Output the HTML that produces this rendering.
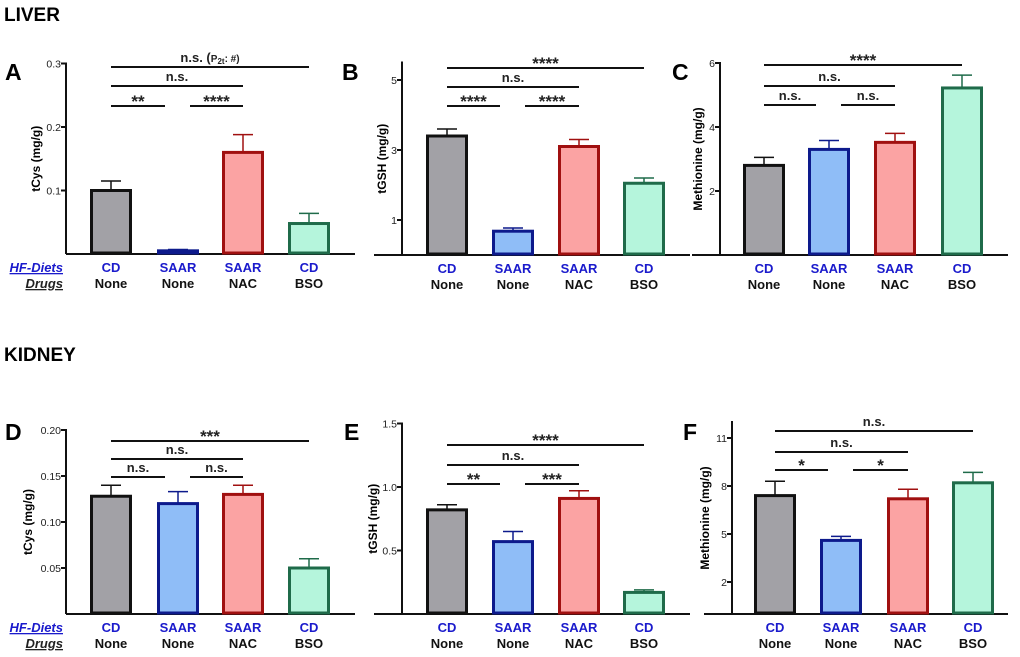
<!DOCTYPE html>
<html><head><meta charset="utf-8">
<style>
body{margin:0;background:#fff;width:1020px;height:652px;overflow:hidden;font-family:"Liberation Sans",Arial,sans-serif}
svg text{font-family:"Liberation Sans",Arial,sans-serif}
</style></head><body>
<svg id="fig" width="1020" height="652" viewBox="0 0 1020 652">
<text x="4" y="21" font-size="19" font-weight="bold">LIVER</text>
<text x="4" y="361" font-size="19" font-weight="bold">KIDNEY</text>
<text x="63" y="272" font-size="13" font-weight="bold" font-style="italic" fill="#1a1acc" text-decoration="underline" text-anchor="end">HF-Diets</text>
<text x="63" y="288" font-size="13" font-weight="bold" font-style="italic" fill="#222" text-decoration="underline" text-anchor="end">Drugs</text>
<text x="63" y="632" font-size="13" font-weight="bold" font-style="italic" fill="#1a1acc" text-decoration="underline" text-anchor="end">HF-Diets</text>
<text x="63" y="648" font-size="13" font-weight="bold" font-style="italic" fill="#222" text-decoration="underline" text-anchor="end">Drugs</text>
</svg>
<script>
const diets=["CD","SAAR","SAAR","CD"];
const drugs=["None","None","NAC","BSO"];
const valsA=[0.1,0.005,0.16,0.048], errA=[0.115,0.007,0.188,0.064], ticksA=[0.1,0.2,0.3];
const valsB=[3.4,0.68,3.1,2.05], errB=[3.6,0.77,3.3,2.2], ticksB=[1,3,5];
const valsC=[2.8,3.3,3.52,5.22], errC=[3.05,3.58,3.8,5.62], ticksC=[2,4,6];
const valsD=[0.128,0.12,0.13,0.05], errD=[0.14,0.133,0.14,0.06], ticksD=[0.05,0.10,0.15,0.20];
const valsE=[0.82,0.57,0.91,0.17], errE=[0.86,0.65,0.97,0.19], ticksE=[0.5,1.0,1.5];
const valsF=[7.4,4.6,7.2,8.2], errF=[8.3,4.85,7.8,8.85], ticksF=[2,5,8,11];
const sigA=["n.s. (P2t: #)","n.s.","**","****"];
const sigB=["****","n.s.","****","****"];
const sigC=["****","n.s.","n.s.","n.s."];
const sigD=["***","n.s.","n.s.","n.s."];
const sigE=["****","n.s.","**","***"];
const sigF=["n.s.","n.s.","*","*"];
const fills=["#a2a1a6","#8fbdf7","#fba3a3","#b5f5dc"];
const strokes=["#111","#0d1a8c","#a01010","#1f6b4a"];
const NS="http://www.w3.org/2000/svg";
const svg=document.getElementById("fig");
function mk(tag,a,p){const e=document.createElementNS(NS,tag);for(const k in a)e.setAttribute(k,a[k]);(p||svg).appendChild(e);return e;}
const panels=[
{L:"A",vals:valsA,err:errA,ticks:ticksA,sig:sigA,ylab:"tCys (mg/g)",ax:66,y0:254,k:635,ymax:0.3,fmt:1,bx:[90,157,222,288],lx:5,ly:80,labx:40,br:[67,86,106],start:66,end:355},
{L:"B",vals:valsB,err:errB,ticks:ticksB,sig:sigB,ylab:"tGSH (mg/g)",ax:402,y0:255,k:35,ymax:5.5,fmt:0,bx:[426,492,558,623],lx:342,ly:80,labx:386,br:[68,87,106],start:374,end:690},
{L:"C",vals:valsC,err:errC,ticks:ticksC,sig:sigC,ylab:"Methionine (mg/g)",ax:720,y0:255,k:32,ymax:6,fmt:0,bx:[743,808,874,941],lx:672,ly:80,labx:702,br:[65,86,105],start:692,end:1008},
{L:"D",vals:valsD,err:errD,ticks:ticksD,sig:sigD,ylab:"tCys (mg/g)",ax:66,y0:614,k:920,ymax:0.2,fmt:2,bx:[90,157,222,288],lx:5,ly:440,labx:32,br:[441,459,477],start:66,end:355},
{L:"E",vals:valsE,err:errE,ticks:ticksE,sig:sigE,ylab:"tGSH (mg/g)",ax:402,y0:614,k:127,ymax:1.5,fmt:1,bx:[426,492,558,623],lx:344,ly:440,labx:377,br:[445,465,484],start:374,end:690},
{L:"F",vals:valsF,err:errF,ticks:ticksF,sig:sigF,ylab:"Methionine (mg/g)",ax:732,y0:614,k:16,ymax:12,fmt:0,bx:[754,820,887,952],lx:683,ly:440,labx:709,br:[431,452,470],start:704,end:1008}
];
panels.forEach(p=>{
  const g=mk("g",{});
  
  
  const Y=v=>p.y0-v*p.k;
  const bw=42, cx=i=>p.bx[i]+bw/2;
  const t=mk("text",{x:p.lx,y:p.ly,"font-size":23,"font-weight":"bold"},g);t.textContent=p.L;
  
  
  const yl=mk("text",{x:0,y:0,"font-size":12,"font-weight":"bold","text-anchor":"middle",transform:`translate(${p.labx},${(p.y0+Y(p.ymax))/2}) rotate(-90)`},g);yl.textContent=p.ylab;
  
  
  const ya=mk("line",{x1:p.ax,y1:Y(p.ymax)-1,x2:p.ax,y2:p.y0,stroke:"#111","stroke-width":2},g);
  
  
  const xa=mk("line",{x1:p.start,y1:p.y0,x2:p.end,y2:p.y0,stroke:"#111","stroke-width":2},g);
  
  
  p.ticks.forEach(v=>{
    mk("line",{x1:p.ax-5,y1:Y(v),x2:p.ax,y2:Y(v),stroke:"#111","stroke-width":2},g);
    const tl=mk("text",{x:p.ax-5,y:Y(v)+4,"font-size":10.5,"text-anchor":"end",fill:"#222"},g);tl.textContent=v.toFixed(p.fmt);
    
    
  });
  p.vals.forEach((v,i)=>{
    const e=mk("line",{x1:cx(i),y1:Y(p.err[i]),x2:cx(i),y2:Y(v),stroke:strokes[i],"stroke-width":1.5},g);
    mk("line",{x1:cx(i)-10,y1:Y(p.err[i]),x2:cx(i)+10,y2:Y(p.err[i]),stroke:strokes[i],"stroke-width":1.5},g);
    
    
    const b=mk("rect",{x:p.bx[i]+1.5,y:Y(v),width:bw-3,height:p.y0-Y(v)-1,fill:fills[i],stroke:strokes[i],"stroke-width":3},g);
    
    
    const t1=mk("text",{x:cx(i),y:p.y0+18,"font-size":13,"font-weight":"bold","text-anchor":"middle",fill:"#1a1acc"},g);t1.textContent=diets[i];
    
    
    const t2=mk("text",{x:cx(i),y:p.y0+34,"font-size":13,"font-weight":"bold","text-anchor":"middle",fill:"#111"},g);t2.textContent=drugs[i];
    
    
  });
  const segs=[[cx(0),cx(3),p.br[0]],[cx(0),cx(2),p.br[1]],[cx(0),cx(1)-13,p.br[2]],[cx(1)+12,cx(2),p.br[2]]];
  segs.forEach((b,j)=>{
    const l=mk("line",{x1:b[0],y1:b[2],x2:b[1],y2:b[2],stroke:"#111","stroke-width":2},g);
    
    
    const star=p.sig[j].includes("*");
    const s=mk("text",{x:(b[0]+b[1])/2,y:star?b[2]+1:b[2]-5,"font-size":star?17:13,"font-weight":"bold","text-anchor":"middle",fill:"#222"},g);
    if(p.sig[j].includes("P2t")){s.innerHTML='n.s. (<tspan font-size="10">P</tspan><tspan font-size="8" dy="2">2t</tspan><tspan font-size="10" dy="-2">: #)</tspan>';}
    else s.textContent=p.sig[j];
    
    
  });
});
</script>
</body></html>
